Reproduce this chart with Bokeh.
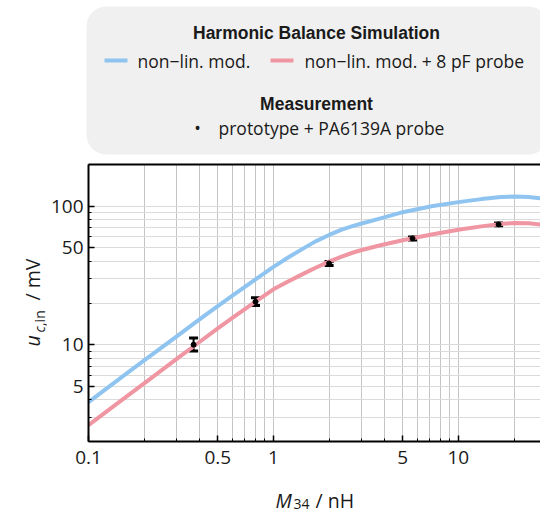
import numpy as np
from bokeh.plotting import figure
from bokeh.models import (Range1d, FixedTicker, CustomJSTickFormatter, Label, BoxAnnotation,
                          ColumnDataSource, Whisker, TeeHead, LogAxis)
from bokeh.layouts import column, row
from bokeh.embed import file_html
from bokeh.resources import INLINE

# ---------------- data ----------------
M34_sim = [0.1, 0.15, 0.2, 0.3, 0.4, 0.5, 0.6, 0.8, 1.0, 1.2, 1.43, 1.68, 2.0, 2.34, 2.7,
           3.0, 3.84, 5.0, 7.16, 10.0, 13.3, 17.0, 20.0, 24.0, 27.8]
u_nonlin = [3.85, 5.78, 7.7, 11.5, 15.3, 19.0, 22.6, 29.6, 36.5, 42.6, 49.0, 55.5, 62.0, 67.8, 72.0,
            75.0, 82.0, 90.5, 100.0, 107.0, 112.5, 116.5, 117.5, 116.5, 114.0]
u_nonlin_probe = [2.63, 3.95, 5.26, 7.9, 10.5, 13.1, 15.6, 20.5, 25.1, 28.6, 32.2, 35.8, 39.8, 43.3, 46.3,
                  48.3, 52.5, 56.8, 62.5, 67.6, 71.5, 74.5, 75.7, 75.3, 73.8]

M34_meas = [0.37, 0.80, 2.0, 5.65, 16.5]
u_meas = [10.0, 20.4, 38.6, 58.5, 73.9]
u_meas_lo = [9.0, 19.2, 37.3, 57.1, 72.3]
u_meas_hi = [11.2, 21.8, 39.9, 59.9, 75.5]

x_major = [0.1, 0.5, 1, 5, 10]
x_minor = [0.2, 0.3, 0.4, 0.6, 0.7, 0.8, 0.9, 2, 3, 4, 6, 7, 8, 9, 20]
y_major = [5, 10, 50, 100]
y_minor = [2, 3, 4, 6, 7, 8, 9, 20, 30, 40, 60, 70, 80, 90, 200]

legend_sim_title = "Harmonic Balance Simulation"
legend_sim_items = ["non\u2212lin. mod.", "non\u2212lin. mod. + 8 pF probe"]
legend_meas_title = "Measurement"
legend_meas_item = "prototype + PA6139A probe"

BLUE = "#8fc4f0"
RED = "#f096a2"
FONT = "Open Sans"
HEAD_FONT = "Liberation Sans"
TXT = "#1a1a1a"


def blank(width, height, xr, yr):
    f = figure(width=width, height=height, x_range=Range1d(*xr), y_range=Range1d(*yr),
               output_backend="svg", toolbar_location=None, min_border=0,
               x_axis_location=None, y_axis_location=None, frame_align=False,
               title_location=None)
    f.grid.visible = False
    f.outline_line_color = None
    return f


def lab(f, x, y, text, size="17.5px", style="normal", font=FONT, align="left", angle=0.0):
    f.add_layout(Label(x=x, y=y, text=text, text_baseline="alphabetic", text_align=align,
                       angle=angle, text_font=font, text_font_size=size,
                       text_font_style=style, text_color=TXT))


# ---------------- legend panel (page pixel coordinates) ----------------
leg = blank(540, 160, (0, 540), (160, 0))
leg.add_layout(BoxAnnotation(left=86, right=548, top=6, bottom=154, fill_color="#f0f0f0",
                             fill_alpha=1.0, line_color=None, border_radius=20,
                             level="underlay"))
lab(leg, 316, 32.5, legend_sim_title, style="bold", font=HEAD_FONT, align="center")
leg.segment(x0=104, y0=60, x1=127, y1=60, line_color=BLUE, line_width=4)
lab(leg, 137, 60, legend_sim_items[0])
leg.segment(x0=270, y0=60, x1=293, y1=60, line_color=RED, line_width=4)
lab(leg, 304, 60, legend_sim_items[1])
lab(leg, 316, 103.5, legend_meas_title, style="bold", font=HEAD_FONT, align="center")
lab(leg, 197, 127.5, "\u2022", align="center")
lab(leg, 218, 127.5, legend_meas_item)

# ---------------- y axis title panel ----------------
a = np.pi / 2
ylab = blank(47, 323, (0, 47), (483, 160))
lab(ylab, 32, 346, "u", size="19.5px", style="italic", angle=a)
lab(ylab, 38.5, 332, "c", size="14px", style="italic", angle=a)
lab(ylab, 38.5, 325.5, ",in", size="14px", angle=a)
lab(ylab, 32, 300, "/ mV", size="19.5px", angle=a)

# ---------------- x axis title panel ----------------
xlab = blank(540, 30, (0, 540), (513, 483))
lab(xlab, 275, 499.5, "M", size="19.5px", style="italic")
lab(xlab, 293, 503.5, "34", size="14px")
lab(xlab, 315, 499.5, "/ nH", size="19.5px")

# ---------------- main plot ----------------
p = figure(width=493, height=323, x_axis_type="log", y_axis_type="log",
           x_range=Range1d(0.1, 27.8), y_range=Range1d(2, 200),
           output_backend="svg", toolbar_location=None, frame_align=False,
           title_location=None,
           min_border_left=39, min_border_right=0, min_border_top=4, min_border_bottom=42)
p.outline_line_color = None

fmt = CustomJSTickFormatter(code="return tick.toString();")
xt = FixedTicker(ticks=x_major, minor_ticks=x_minor)
yt = FixedTicker(ticks=y_major, minor_ticks=y_minor)

for ax, t in ((p.xaxis[0], xt), (p.yaxis[0], yt)):
    ax.ticker = t
    ax.formatter = fmt
    ax.axis_line_width = 2
    ax.axis_line_color = "black"
    ax.major_tick_in = 6
    ax.major_tick_out = 0
    ax.minor_tick_in = 3
    ax.minor_tick_out = 0
    ax.major_tick_line_color = "black"
    ax.major_tick_line_width = 1.5
    ax.minor_tick_line_color = "black"
    ax.minor_tick_line_width = 1
    ax.major_label_text_font = FONT
    ax.major_label_text_font_size = "19px"
    ax.major_label_text_color = TXT
p.xaxis[0].major_label_standoff = 9
p.yaxis[0].major_label_standoff = 5

p.xgrid.ticker = xt
p.ygrid.ticker = yt
p.xgrid.grid_line_color = "#c4c4c4"
p.xgrid.minor_grid_line_color = "#c4c4c4"
p.ygrid.grid_line_color = "#dadada"
p.ygrid.minor_grid_line_color = "#dadada"

top_ax = LogAxis(ticker=FixedTicker(ticks=[]), axis_line_width=2, axis_line_color="black",
                 major_tick_line_color=None, minor_tick_line_color=None,
                 major_label_text_font_size="0px", major_label_standoff=0)
p.add_layout(top_ax, "above")

p.line(M34_sim, u_nonlin, line_color=BLUE, line_width=4, line_join="round")
p.line(M34_sim, u_nonlin_probe, line_color=RED, line_width=4, line_join="round")

src = ColumnDataSource(dict(x=M34_meas, lo=u_meas_lo, hi=u_meas_hi))
p.add_layout(Whisker(source=src, base="x", lower="lo", upper="hi", dimension="height",
                     line_color="black", line_width=2,
                     upper_head=TeeHead(size=9, line_width=3, line_color="black"),
                     lower_head=TeeHead(size=9, line_width=3, line_color="black")))
p.scatter(M34_meas, u_meas, size=5, color="black")

layout = column(leg, row(ylab, p), xlab)
open("out.html", "w").write(file_html(layout, INLINE))
